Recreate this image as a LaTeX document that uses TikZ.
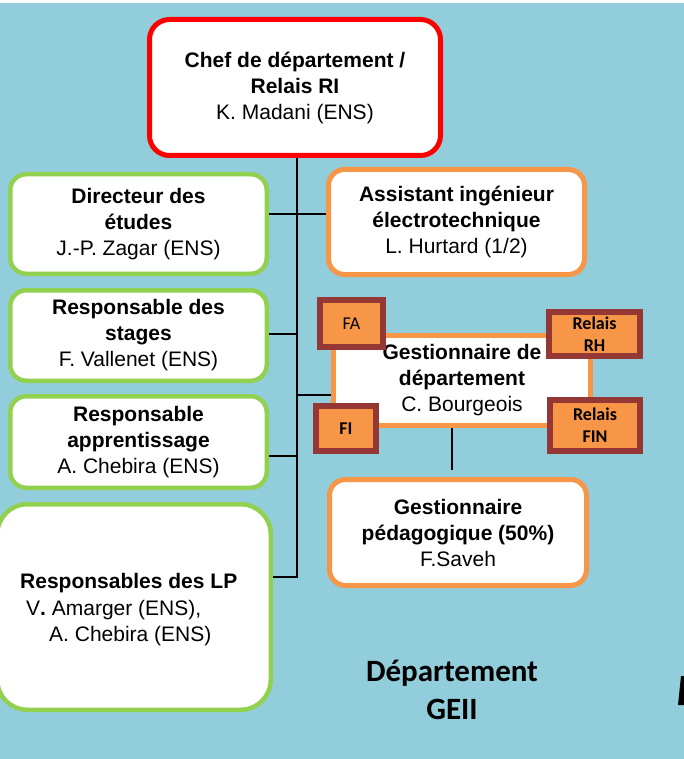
\documentclass[tikz,border=0pt]{standalone}
\usepackage{fontspec}
\setmainfont{Liberation Sans}
\newfontfamily\calib{Carlito}
\definecolor{bgblue}{HTML}{92CDDC}
\definecolor{chefred}{HTML}{FF0000}
\definecolor{boxgreen}{HTML}{92D050}
\definecolor{boxorange}{HTML}{F79646}
\definecolor{tagred}{HTML}{953735}
\tikzset{
  txt/.style={font=\fontsize{21}{26}\selectfont, align=center, inner sep=0pt},
  chefbox/.style={txt, draw=chefred, line width=5pt, fill=white, rounded corners=20pt},
  greenbox/.style={txt, draw=boxgreen, line width=4.5pt, fill=white, rounded corners=16pt},
  orangebox/.style={txt, draw=boxorange, line width=5pt, fill=white, rounded corners=16pt},
  deptbox/.style={txt, draw=boxorange, line width=5pt, fill=white},
  tagbox/.style={draw=tagred, line width=6pt, fill=boxorange, inner sep=0pt, align=center,
                 font=\calib\fontsize{18}{22}\selectfont},
  link/.style={draw=black, line width=2pt},
}
\begin{document}
\begin{tikzpicture}[x=1pt,y=-1pt]
\useasboundingbox (0,0) rectangle (684,759);
\fill[bgblue] (0,0) rectangle (684,759);
\fill[white] (0,0) rectangle (684,3.5);

% top box
\node[chefbox, minimum width=291pt, minimum height=136pt] (chef) at (295,87.5)
  {\textbf{Chef de département /}\\\textbf{Relais RI}\\K. Madani (ENS)};

% left column
\node[greenbox, minimum width=256.5pt, minimum height=99.5pt] (dir) at (138.5,224)
  {\textbf{Directeur des}\\\textbf{études}\\J.-P. Zagar (ENS)};
\node[greenbox, minimum width=256.5pt, minimum height=90.5pt] (stg) at (138.5,335.5)
  {\textbf{Responsable des}\\\textbf{stages}\\F. Vallenet (ENS)};
\node[greenbox, minimum width=256.5pt, minimum height=91.5pt] (app) at (138.5,442)
  {\textbf{Responsable}\\\textbf{apprentissage}\\A. Chebira (ENS)};
\node[greenbox, rounded corners=30pt, minimum width=273.5pt, minimum height=205.5pt] (lp) at (134,607) {};
\node[txt, anchor=base west] (lpt1) at (20,588) {\textbf{Responsables des LP}};
\node[txt, anchor=base west] (lpt2) at (26,615) {V\textbf{.} Amarger (ENS),};
\node[txt, anchor=base west] (lpt3) at (49,641) {A. Chebira (ENS)};

% right column
\node[orangebox, minimum width=256pt, minimum height=105pt] (asst) at (456.5,222)
  {\textbf{Assistant ingénieur}\\\textbf{électrotechnique}\\L. Hurtard (1/2)};
\node[deptbox, minimum width=257pt, minimum height=90pt] (gd) at (462,380.5)
  {\textbf{Gestionnaire de}\\\textbf{département}\\C. Bourgeois};
\node[orangebox, minimum width=257pt, minimum height=106pt] (gp) at (458,532.5)
  {\textbf{Gestionnaire}\\\textbf{pédagogique (50\%)}\\F.Saveh};

% tags
\node[tagbox, minimum width=63pt, minimum height=47pt] (fa) at (351.5,323.5) {FA};
\node[tagbox, minimum width=91pt, minimum height=44pt] (rh) at (594.5,334) {\textbf{Relais}\\\textbf{RH}};
\node[tagbox, minimum width=60pt, minimum height=45pt] (fi) at (346,428.5) {\textbf{FI}};
\node[tagbox, minimum width=90pt, minimum height=51pt] (fin) at (595,425.5) {\textbf{Relais}\\\textbf{FIN}};

% connectors
\coordinate (spine) at (297,577);
\draw[link] (chef.south -| spine) -- (spine) -- (spine -| lp.east);
\draw[link] (dir.east |- 0,214) -- (asst.west |- 0,214);
\draw[link] (stg.east |- 0,334) -- (spine |- 0,334);
\draw[link] (app.east |- 0,456) -- (spine |- 0,456);
\draw[link] (spine |- 0,395) -- (gd.west |- 0,395);
\draw[link, shorten >=7pt] (gd.south -| 452,0) -- (gp.north -| 452,0);

% title
\node[font=\calib\bfseries\fontsize{31}{38}\selectfont, align=center, inner sep=0pt, anchor=center] (title) at (452,690)
  {Département\\GEII};

% edge mark
\fill[black] (681,676) -- (684,676) -- (684,705) -- (678,705) -- cycle;
\end{tikzpicture}
\end{document}
